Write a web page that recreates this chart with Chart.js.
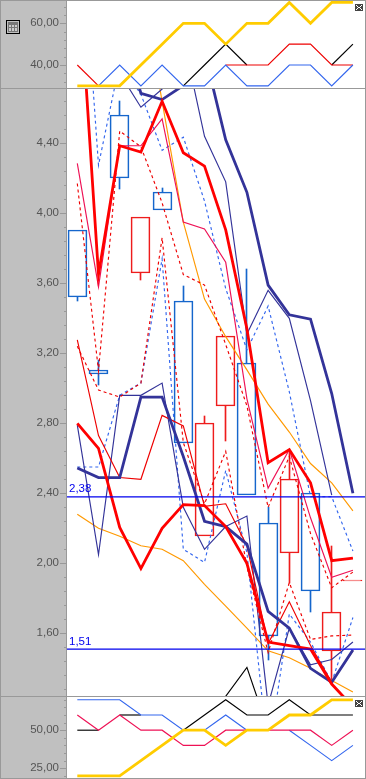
<!DOCTYPE html>
<html><head><meta charset="utf-8">
<style>
html,body{margin:0;padding:0;background:#c0c0c0;overflow:hidden}
#wrap{position:relative;width:366px;height:779px;background:#c0c0c0}
canvas{position:absolute;left:0}
.ln{position:absolute;background:#999}
</style>
<script src="https://cdn.jsdelivr.net/npm/chart.js@4/dist/chart.umd.min.js"></script>
</head><body>
<div id="wrap">
<canvas id="cTop" width="366" height="87" style="top:1px"></canvas>
<canvas id="cMain" width="366" height="607" style="top:89px"></canvas>
<canvas id="cBot" width="366" height="81" style="top:697px"></canvas>
<div class="ln" style="left:0;top:0;width:366px;height:1px"></div>
<div class="ln" style="left:0;top:88px;width:366px;height:1px"></div>
<div class="ln" style="left:0;top:696px;width:366px;height:1px"></div>
<div class="ln" style="left:0;top:778px;width:366px;height:1px"></div>
<div class="ln" style="left:0;top:0;width:1px;height:779px"></div>
<div class="ln" style="left:66px;top:0;width:1px;height:779px"></div>
<div class="ln" style="left:365px;top:0;width:1px;height:779px"></div>
</div>
<script>
// ---------- data ----------
const sessions = [0,1,2,3,4,5,6,7,8,9,10,11,12,13];

// top panel
const topBlack  = [40,30,40,30,40,30,40,50,40,40,50,50,40,50];
const topRed    = [40,30,40,30,40,30,30,40,40,40,50,50,40,40];
const topBlue   = [null,30,40,30,40,30,30,40,30,30,40,40,30,40];
const topYellow = [30,30,30,40,50,60,60,50,60,60,70,60,70,70];
const topTicks  = [32,36,40,44,48,52,56,60,64,68];
const topMajor  = [40,60];

// main panel: candles
const candleOpen  = [3.52,3.08,4.20,3.98,4.02,2.69,2.80,3.30,2.39,1.585,2.48,1.84,1.72,1.903];
const candleClose = [3.905,3.103,4.56,3.66,4.12,3.50,2.157,2.90,3.143,2.23,2.06,2.40,1.50,1.897];
const wickHigh    = [3.905,3.16,4.64,3.98,4.145,3.585,2.84,3.30,3.68,2.32,2.64,2.40,2.10,1.903];
const wickLow     = [3.50,3.02,4.14,3.62,4.02,2.69,2.157,2.70,2.39,1.45,1.89,1.72,1.32,1.897];

// main panel: lines
const thickRedA  = [5.50,3.65,4.386,4.35,4.64,4.346,4.27,3.905,3.34,2.575,2.65,2.46,2.015,2.03];
const thickRedB  = [2.80,2.657,2.205,1.97,2.20,2.335,2.33,2.21,2.00,1.55,1.53,1.51,1.31,1.18];
const thickNavyA = [null,null,5.10,4.686,4.65,4.73,4.92,4.42,4.12,3.59,3.42,3.395,2.97,2.40];
const thickNavyB = [2.545,2.49,2.49,2.95,2.95,2.61,2.24,2.21,2.11,1.725,1.63,1.40,1.32,1.505];
const thinNavyA  = [null,null,4.80,4.606,4.71,5.00,4.44,4.18,3.31,3.56,3.40,2.93,2.39,null];
const thinNavyB  = [2.79,2.05,2.96,2.96,3.03,2.32,2.08,2.21,2.27,1.19,1.63,1.42,1.45,1.55];
const thinRedA   = [4.285,3.58,4.386,4.386,4.54,3.95,3.91,3.72,2.94,2.43,2.65,2.26,1.92,1.96];
const thinRedB   = [3.277,2.73,2.49,2.48,2.845,2.785,2.325,2.34,2.10,1.54,1.78,1.53,1.32,1.50];
const dashRedA   = [4.17,3.10,4.47,4.38,4.06,3.65,3.59,3.25,2.90,2.32,2.61,2.17,1.86,1.95];
const dashRedB   = [3.24,2.99,2.95,3.03,3.86,2.69,2.34,2.64,1.98,1.49,1.89,1.565,1.585,1.59];
const dashBlueA  = [6.00,4.275,4.86,4.68,4.36,4.435,4.07,3.57,3.22,3.47,2.98,2.38,2.38,2.07];
const dashBlueB  = [2.55,2.55,2.96,3.03,3.74,2.08,2.005,2.53,2.06,0.90,1.71,1.55,1.32,1.69];
const orangeA    = [null,null,null,5.33,4.64,3.95,3.51,3.295,3.105,2.91,2.75,2.57,2.46,2.30];
const orangeB    = [2.28,2.20,2.155,2.10,2.08,2.015,1.88,1.755,1.63,1.50,1.46,1.40,1.33,1.265];
const blackLow   = [null,null,null,null,null,null,1.00,1.24,1.405,1.05,null,null,null,null];
const levels     = [2.38,1.51];
const levelLabels= ['2,38','1,51'];
const mainTicks  = [1.28,1.36,1.44,1.52,1.60,1.68,1.76,1.84,1.92,2.00,2.08,2.16,2.24,2.32,2.40,2.48,2.56,2.64,2.72,2.80,2.88,2.96,3.04,3.12,3.20,3.28,3.36,3.44,3.52,3.60,3.68,3.76,3.84,3.92,4.00,4.08,4.16,4.24,4.32,4.40,4.48,4.56,4.64];
const mainMajor  = [1.6,2.0,2.4,2.8,3.2,3.6,4.0,4.4];

// bottom panel
const botBlack  = [50,50,60,60,60,50,60,70,60,60,70,60,60,60];
const botRed    = [60,50,60,50,50,40,40,50,50,50,50,50,40,50];
const botBlue   = [70,70,70,60,60,50,50,60,50,50,50,40,30,40];
const botYellow = [20,20,20,30,40,50,50,40,50,50,60,60,70,70];
const botTicks  = [20,25,30,35,40,45,50,55,60,65,70];
const botMajor  = [25,50];

// segments that lie exactly under a series drawn later
const topBlackUnder = [0,1,2,3,4,8,9,10,11];
const topRedUnder   = [1,2,3,4,5,6];
const botBlackUnder = [1,3,4];
const botBlueUnder  = [8,9];

// ---------- helpers ----------
const XMIN=-0.486, XMAX=13.57;
const pts = a => a.map((v,i)=>({x:sessions[i],y:v}));
const line = (a,color,width,dash,under) => ({type:'line',data:pts(a),borderColor:color,borderWidth:width,borderDash:dash||[],
  pointRadius:0,tension:0,fill:false,spanGaps:false,borderCapStyle:'butt',borderJoinStyle:'miter',
  segment:under?{borderColor:ctx=>under.includes(ctx.p0DataIndex)?'rgba(0,0,0,0)':undefined}:undefined});
const fmt = v => v.toFixed(2).replace('.',',');
const THIN=1.15, THICK=2.8;

function panelPlugin(major, extra){
  return {id:'panel',
    beforeDraw(c){
      const g=c.ctx,a=c.chartArea;
      g.save();g.fillStyle='#fff';g.fillRect(a.left,0,a.right-a.left,c.height);g.restore();
    },
    beforeDatasetsDraw(c){
      // snap candle rectangles to whole pixels so their 1px edges stay sharp
      c.getSortedVisibleDatasetMetas().forEach(m=>{
        if(m.type!=='bar') return;
        m.data.forEach(el=>{
          el.x=Math.floor(el.x)+0.5;
          let t=Math.round(el.y),b=Math.round(el.base);
          if(Math.abs(b-t)<1) b=t+1;
          el.y=t;el.base=b;
          el.height=b-t;
        });
      });
    },
    afterDraw(c){
      const g=c.ctx,y=c.scales.y;
      g.save();g.fillStyle='#999';
      y.ticks.forEach(t=>{
        const isMajor=major.some(m=>Math.abs(m-t.value)<1e-6);
        const len=isMajor?6:2;
        g.fillRect(66-len,Math.round(y.getPixelForValue(t.value)),len,1);
      });
      g.restore();
      if(extra) extra(c,g);
    }};
}
function makeChart(id,datasets,min,max,ticks,major,extra){
  datasets.forEach((d,i)=>{d.order=datasets.length-i;});
  return new Chart(document.getElementById(id),{
    data:{datasets},
    options:{responsive:false,animation:false,maintainAspectRatio:false,
      layout:{padding:{left:0,right:1,top:0,bottom:0}},
      plugins:{legend:{display:false},tooltip:{enabled:false}},
      scales:{
        x:{type:'linear',display:false,min:XMIN,max:XMAX,offset:false},
        y:{type:'linear',min,max,position:'left',
          afterFit(s){s.width=67;s.paddingTop=0;s.paddingBottom=0;},
          afterBuildTicks(s){s.ticks=ticks.map(v=>({value:v}));},
          grid:{display:false,drawTicks:false},
          border:{display:false},
          ticks:{autoSkip:false,padding:8,color:'#555',font:{family:'"Liberation Sans"',size:11.5},
            callback:v=>major.some(m=>Math.abs(m-v)<1e-6)?fmt(v):''}
        }
      }
    },
    plugins:[panelPlugin(major,extra)]
  });
}
function closeBtn(g,x,y){
  g.save();g.fillStyle='#444';g.fillRect(x,y,8,7);
  g.fillStyle='#fff';
  [[1,1],[2,2],[3,3],[4,3],[5,2],[6,1],[2,4],[5,4],[1,5],[6,5]].forEach(p=>g.fillRect(x+p[0],y+p[1],1,1));
  g.restore();
}

// ---------- top ----------
makeChart('cTop',[
  line(topBlack,'#000',THIN,null,topBlackUnder),
  line(topRed,'#ee0000',THIN,null,topRedUnder),
  line(topBlue,'#3366ee',THIN),
  line(topYellow,'#ffcc00',THICK)
],28.97,70.7,topTicks,topMajor,(c,g)=>{
  closeBtn(g,355,3);
  g.save();
  g.fillStyle='#000';g.fillRect(6,19,14,14);
  g.fillStyle='#c0c0c0';g.fillRect(7,20,12,12);
  g.fillStyle='#777';g.fillRect(8,21,10,10);
  g.fillStyle='#ccc';
  g.fillRect(9,24,2,2);g.fillRect(12,24,2,2);g.fillRect(15,24,2,2);
  g.fillRect(9,27,2,3);g.fillRect(12,27,2,3);g.fillRect(15,27,2,3);
  g.restore();
});

// ---------- main ----------
const isUp = i => candleClose[i]>candleOpen[i];
const candleColor = sessions.map(i=>isUp(i)?'#1566cc':'#ee1c1c');
const bodyTop = sessions.map(i=>Math.max(candleOpen[i],candleClose[i]));
const bodyBot = sessions.map(i=>Math.min(candleOpen[i],candleClose[i]));
const bars = (rows,thick) => ({type:'bar',grouped:false,barThickness:thick,
  data:rows.map(r=>({x:r.i,y:[r.a,r.b]})),
  backgroundColor:rows.map(r=>thick===1?candleColor[r.i]:'rgba(0,0,0,0)'),
  borderColor:rows.map(r=>candleColor[r.i]),
  borderWidth:thick===1?0:1,borderSkipped:false,clip:false});
const upperW = bars(sessions.filter(i=>wickHigh[i]>bodyTop[i]).map(i=>({i,a:bodyTop[i],b:wickHigh[i]})),1);
const lowerW = bars(sessions.filter(i=>wickLow[i]<bodyBot[i]).map(i=>({i,a:wickLow[i],b:bodyBot[i]})),1);
const bodies = bars(sessions.map(i=>({i,a:bodyBot[i],b:bodyTop[i]})),19);

const levelLine = v => ({type:'line',data:[{x:XMIN,y:v},{x:XMAX,y:v}],borderColor:'#0000ee',borderWidth:1.2,pointRadius:0,tension:0});
makeChart('cMain',[
  upperW,lowerW,bodies,
  line(blackLow,'#000',THIN),
  line(orangeA,'#ff9900',THIN),
  line(orangeB,'#ff9900',THIN),
  line(dashBlueA,'#3366ee',THIN,[3,3]),
  line(dashBlueB,'#3366ee',THIN,[3,3]),
  line(thinNavyA,'#333399',THIN),
  line(thinNavyB,'#333399',THIN),
  line(dashRedA,'#ee0000',THIN,[3,3]),
  line(dashRedB,'#ee0000',THIN,[3,3]),
  line(thinRedA,'#ee1155',THIN),
  line(thinRedB,'#ee0000',THIN),
  line(thickNavyA,'#333399',THICK),
  line(thickNavyB,'#333399',THICK),
  line(thickRedA,'#ff0000',THICK),
  line(thickRedB,'#ff0000',THICK),
  levelLine(levels[0]),
  levelLine(levels[1])
],1.2417,4.7103,mainTicks,mainMajor,(c,g)=>{
  const y=c.scales.y;
  g.save();g.fillStyle='#0000ee';g.font='11.5px "Liberation Sans"';g.textAlign='left';g.textBaseline='alphabetic';
  levels.forEach((v,i)=>g.fillText(levelLabels[i],69,y.getPixelForValue(v)-4.5));
  g.restore();
});

// ---------- bottom ----------
makeChart('cBot',[
  line(botBlack,'#000',THIN,null,botBlackUnder),
  line(botBlue,'#3366ee',THIN,null,botBlueUnder),
  line(botRed,'#ee1155',THIN),
  line(botYellow,'#ffcc00',THICK)
],18.55,71.84,botTicks,botMajor,(c,g)=>{closeBtn(g,355,3);});
</script>
</body></html>
